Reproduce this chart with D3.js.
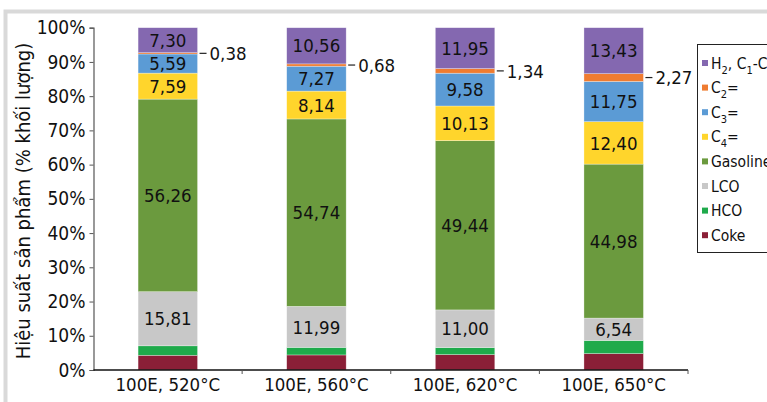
<!DOCTYPE html>
<html>
<head>
<meta charset="utf-8">
<script src="https://cdn.jsdelivr.net/npm/d3@7"></script>
<style>
  html, body { margin: 0; padding: 0; background: #fff; }
  svg { display: block; }
  text { font-family: "Liberation Sans Narrow", "DejaVu Sans Condensed", "Arial Narrow", sans-serif; fill: #111; }
</style>
</head>
<body>
<svg id="chart" width="767" height="402"></svg>
<script>
// Categories (run conditions)
const categories = ["100E, 520°C", "100E, 560°C", "100E, 620°C", "100E, 650°C"];

// Product yields (% by mass), bottom to top of each stack
const coke     = [4.30, 4.40, 4.50, 4.80];
const hco      = [2.77, 2.21, 2.06, 3.83];
const lco      = [15.81, 11.99, 11.00, 6.54];
const gasoline = [56.26, 54.74, 49.44, 44.98];
const c4       = [7.59, 8.14, 10.13, 12.40];
const c3       = [5.59, 7.27, 9.58, 11.75];
const c2       = [0.38, 0.68, 1.34, 2.27];
const h2c1c4   = [7.30, 10.56, 11.95, 13.43];

const yTicks = [0, 10, 20, 30, 40, 50, 60, 70, 80, 90, 100];

const seriesDefs = [
  { key: "coke",     values: coke,     color: "#8b1f37", legend: [["Coke"]],                      label: false },
  { key: "hco",      values: hco,      color: "#1faa4b", legend: [["HCO"]],                       label: false },
  { key: "lco",      values: lco,      color: "#c8c8c8", legend: [["LCO"]],                       label: "inside" },
  { key: "gasoline", values: gasoline, color: "#6b9a3e", legend: [["Gasoline"]],                  label: "inside" },
  { key: "c4",       values: c4,       color: "#ffd52c", legend: [["C"], ["4", "sub"], ["="]],    label: "inside" },
  { key: "c3",       values: c3,       color: "#5b9bd5", legend: [["C"], ["3", "sub"], ["="]],    label: "inside" },
  { key: "c2",       values: c2,       color: "#ef7c31", legend: [["C"], ["2", "sub"], ["="]],    label: "outside" },
  { key: "h2c1c4",   values: h2c1c4,   color: "#8468b0", legend: [["H"], ["2", "sub"], [", C"], ["1", "sub"], ["-C"], ["4", "sub"]], label: "inside" }
];

const rows = categories.map((c, i) => {
  const r = { cat: c };
  seriesDefs.forEach(s => { r[s.key] = s.values[i]; });
  return r;
});

const svg = d3.select("#chart");

// outer light frame
svg.append("rect")
  .attr("x", 5.5).attr("y", 11.5)
  .attr("width", 820).attr("height", 420)
  .attr("fill", "none").attr("stroke", "#d9d9d9").attr("stroke-width", 4);

const plot = { left: 93.5, right: 688, top: 27.7, bottom: 370 };

const x = d3.scaleBand().domain(categories).range([plot.left, plot.right]).paddingInner(0.6).paddingOuter(0.3);
const y = d3.scaleLinear().domain([0, 100]).range([plot.bottom, plot.top]);

const stack = d3.stack().keys(seriesDefs.map(s => s.key));
const layers = stack(rows);

const fmt = v => v.toFixed(2).replace(".", ",");

const g = svg.append("g");

layers.forEach((layer, li) => {
  const def = seriesDefs[li];
  g.append("g").selectAll("rect")
    .data(layer)
    .join("rect")
    .attr("x", d => x(d.data.cat))
    .attr("width", x.bandwidth())
    .attr("y", d => y(d[1]))
    .attr("height", d => y(d[0]) - y(d[1]))
    .attr("fill", def.color)
    .attr("stroke", "rgba(255,255,255,0.5)")
    .attr("stroke-width", 0.6);

  if (def.label === "inside") {
    g.append("g").selectAll("text")
      .data(layer)
      .join("text")
      .attr("x", d => x(d.data.cat) + x.bandwidth() / 2)
      .attr("y", d => (y(d[0]) + y(d[1])) / 2)
      .attr("dy", "0.36em")
      .attr("text-anchor", "middle")
      .style("font-size", "18.5px")
      .text(d => fmt(d.data[def.key]));
  } else if (def.label === "outside") {
    const lg = g.append("g").selectAll("g")
      .data(layer)
      .join("g")
      .attr("transform", d => `translate(${x(d.data.cat) + x.bandwidth()},${(y(d[0]) + y(d[1])) / 2})`);
    lg.append("line")
      .attr("x1", 2).attr("x2", 9)
      .attr("stroke", "#222").attr("stroke-width", 1.2);
    lg.append("text")
      .attr("x", 12).attr("dy", "0.36em")
      .style("font-size", "18.5px")
      .text(d => fmt(d.data[def.key]));
  }
});

// Y axis
const yAxis = d3.axisLeft(y).tickValues(yTicks).tickFormat(d => d + "%").tickSize(4).tickPadding(4);
const yg = svg.append("g").attr("transform", `translate(${plot.left},0)`).call(yAxis);
yg.select(".domain").attr("stroke", "#555").attr("stroke-width", 1.2);
yg.selectAll(".tick line").attr("stroke", "#555");
yg.selectAll(".tick text").style("font-size", "19px").attr("fill", "#111");

// X axis: line with boundary ticks
const xg = svg.append("g");
xg.append("line")
  .attr("x1", plot.left).attr("x2", plot.right)
  .attr("y1", plot.bottom).attr("y2", plot.bottom)
  .attr("stroke", "#111").attr("stroke-width", 1.4);
const bounds = d3.range(categories.length + 1).map(i => plot.left + i * (plot.right - plot.left) / categories.length);
xg.selectAll("line.b")
  .data(bounds.slice(1))
  .join("line")
  .attr("class", "b")
  .attr("x1", d => d).attr("x2", d => d)
  .attr("y1", plot.bottom).attr("y2", plot.bottom + 4)
  .attr("stroke", "#555").attr("stroke-width", 1);
xg.selectAll("text")
  .data(categories)
  .join("text")
  .attr("x", d => x(d) + x.bandwidth() / 2)
  .attr("y", plot.bottom + 21)
  .attr("text-anchor", "middle")
  .style("font-size", "18.5px")
  .text(d => d);

// Y axis title
svg.append("text")
  .attr("transform", `translate(30,201) rotate(-90)`)
  .attr("text-anchor", "middle")
  .style("font-size", "20px")
  .text("Hiệu suất sản phẩm (% khối lượng)");

// Legend
const legend = svg.append("g").attr("transform", "translate(697,44)");
legend.append("rect")
  .attr("x", 0.5).attr("y", 0.5).attr("width", 120).attr("height", 208)
  .attr("fill", "#fff").attr("stroke", "#222").attr("stroke-width", 1);

const legendItems = seriesDefs.slice().reverse();
const li = legend.selectAll("g.item")
  .data(legendItems)
  .join("g")
  .attr("class", "item")
  .attr("transform", (d, i) => `translate(0,${19 + i * 24.6})`);
li.append("rect")
  .attr("x", 5).attr("y", -3).attr("width", 6).attr("height", 6)
  .attr("fill", d => d.color);
li.each(function (d) {
  const t = d3.select(this).append("text")
    .attr("x", 14).attr("dy", "0.36em")
    .style("font-size", "15.5px");
  d.legend.forEach(([s, kind]) => {
    const ts = t.append("tspan").text(s);
    if (kind === "sub") ts.attr("dy", "5").style("font-size", "11px");
    else if (t.selectAll("tspan").size() > 1) ts.attr("dy", "-5");
  });
});
</script>
</body>
</html>
